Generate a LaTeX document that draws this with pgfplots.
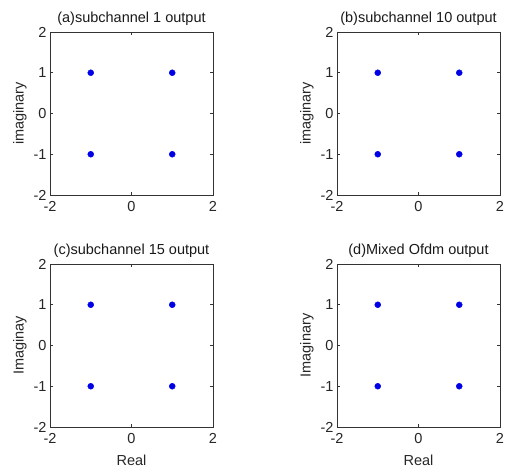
\documentclass[border=0pt]{standalone}
\usepackage{fontspec}
\setmainfont{Liberation Sans}
\usepackage{pgfplots}
\pgfplotsset{compat=1.18}
\definecolor{ptblue}{RGB}{0,0,230}
\pgfplotsset{
  conset/.style={
    scale only axis, width=163pt, height=163pt,
    xmin=-2, xmax=2, ymin=-2, ymax=2,
    xtick={-2,0,2}, ytick={-2,-1,0,1,2},
    tick align=inside, tick pos=both,
    major tick length=3pt,
    axis line style={black!80, line width=0.6pt},
    tick style={black!80, line width=0.6pt},
    /pgf/number format/assume math mode=true,
    tick label style={font=\fontsize{14.5}{15}\selectfont, text=black!85},
    label style={font=\fontsize{14.5}{15}\selectfont, text=black!85},
    title style={font=\fontsize{14.5}{15}\selectfont, text=black!90, yshift=-3pt},
    xticklabel style={yshift=-3pt},
    yticklabel style={xshift=0pt},
    ylabel style={yshift=0pt},
    xlabel style={yshift=-4pt},
  },
  ptstyle/.style={only marks, mark=*, mark size=3pt, color=ptblue, mark options={fill=ptblue, draw=ptblue}},
}
\begin{document}
\begin{tikzpicture}
\path[use as bounding box] (0pt,0pt) rectangle (506pt,468pt);
\begin{axis}[conset, at={(50pt,273pt)}, anchor=south west,
  title={(a)subchannel 1 output}, ylabel={imaginary}]
\addplot[ptstyle] coordinates {(-1,1) (1,1) (-1,-1) (1,-1)};
\end{axis}
\begin{axis}[conset, at={(337pt,273pt)}, anchor=south west,
  title={(b)subchannel 10 output}, ylabel={imaginary}]
\addplot[ptstyle] coordinates {(-1,1) (1,1) (-1,-1) (1,-1)};
\end{axis}
\begin{axis}[conset, at={(50pt,41pt)}, anchor=south west,
  title={(c)subchannel 15 output}, ylabel={Imaginay}, xlabel={Real}]
\addplot[ptstyle] coordinates {(-1,1) (1,1) (-1,-1) (1,-1)};
\end{axis}
\begin{axis}[conset, at={(337pt,41pt)}, anchor=south west,
  title={(d)Mixed Ofdm output}, ylabel={Imaginary}, xlabel={Real}]
\addplot[ptstyle] coordinates {(-1,1) (1,1) (-1,-1) (1,-1)};
\end{axis}
\end{tikzpicture}
\end{document}
